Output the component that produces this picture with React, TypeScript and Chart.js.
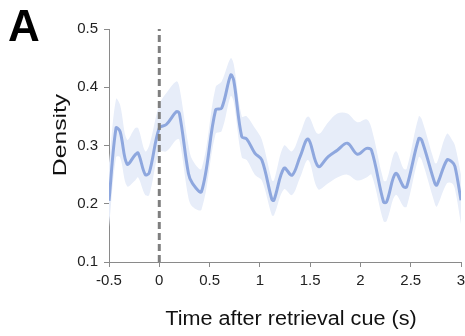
import React, { useEffect, useRef } from "react";
import { Chart, registerables } from "chart.js";

Chart.register(...registerables);

const timePoints = [-0.5, -0.43, -0.39, -0.32, -0.24, -0.21, -0.14, -0.1, 0.0, 0.07, 0.17, 0.2, 0.29, 0.33, 0.42, 0.56, 0.62, 0.71, 0.74, 0.82, 0.87, 0.95, 1.02, 1.12, 1.14, 1.24, 1.32, 1.4, 1.48, 1.58, 1.68, 1.77, 1.87, 1.97, 2.06, 2.11, 2.23, 2.26, 2.35, 2.43, 2.46, 2.58, 2.61, 2.74, 2.76, 2.86, 2.91, 2.94, 3.0];
const densityMean = [0.205, 0.33, 0.324, 0.268, 0.284, 0.287, 0.25, 0.253, 0.33, 0.336, 0.358, 0.355, 0.252, 0.235, 0.221, 0.361, 0.364, 0.421, 0.412, 0.315, 0.311, 0.287, 0.275, 0.207, 0.206, 0.261, 0.249, 0.281, 0.311, 0.264, 0.281, 0.292, 0.304, 0.285, 0.295, 0.292, 0.203, 0.203, 0.252, 0.229, 0.229, 0.312, 0.309, 0.235, 0.232, 0.275, 0.272, 0.264, 0.206];
const densityUpper = [0.27, 0.38, 0.37, 0.31, 0.33, 0.33, 0.29, 0.3, 0.37, 0.39, 0.41, 0.4, 0.3, 0.275, 0.26, 0.4, 0.41, 0.45, 0.44, 0.35, 0.35, 0.33, 0.31, 0.24, 0.24, 0.3, 0.29, 0.32, 0.35, 0.32, 0.34, 0.355, 0.355, 0.34, 0.345, 0.33, 0.24, 0.24, 0.29, 0.26, 0.26, 0.35, 0.345, 0.27, 0.27, 0.32, 0.31, 0.3, 0.25];
const densityLower = [0.16, 0.28, 0.28, 0.23, 0.24, 0.245, 0.215, 0.215, 0.29, 0.29, 0.31, 0.31, 0.21, 0.195, 0.19, 0.32, 0.325, 0.385, 0.375, 0.28, 0.275, 0.25, 0.24, 0.18, 0.18, 0.225, 0.215, 0.245, 0.275, 0.225, 0.235, 0.245, 0.25, 0.24, 0.245, 0.25, 0.17, 0.17, 0.215, 0.195, 0.195, 0.28, 0.275, 0.2, 0.195, 0.235, 0.235, 0.225, 0.165];
const cueTime = 0;
const xRange = [-0.5, 3];
const yRange = [0.1, 0.5];
const xTitle = "Time after retrieval cue (s)";
const yTitle = "Density";
const panelLabel = "A";

const FONT = "'Liberation Sans', Arial, Helvetica, sans-serif";

export default function App() {
  const ref = useRef<HTMLCanvasElement>(null);
  useEffect(() => {
    if (!ref.current) return;
    const pts = (ys: number[]) => timePoints.map((x, i) => ({ x, y: ys[i] }));
    const fmt = (v: any) => String(Math.round(Number(v) * 10) / 10);
    const chart = new Chart(ref.current, {
      type: "line",
      data: {
        datasets: [
          {
            data: [{ x: cueTime, y: yRange[0] }, { x: cueTime, y: yRange[1] }],
            borderColor: "#7f7f7f",
            borderWidth: 3,
            borderDash: [7, 4],
            pointRadius: 0,
            fill: false,
            order: 0,
          },
          {
            data: pts(densityMean),
            borderColor: "#8ea7de",
            borderWidth: 3,
            pointRadius: 0,
            tension: 0.35,
            fill: false,
            order: 1,
          },
          {
            data: pts(densityUpper),
            borderColor: "rgba(0,0,0,0)",
            borderWidth: 0,
            pointRadius: 0,
            tension: 0.35,
            backgroundColor: "#e7edf9",
            fill: "+1",
            order: 2,
          },
          {
            data: pts(densityLower),
            borderColor: "rgba(0,0,0,0)",
            borderWidth: 0,
            pointRadius: 0,
            tension: 0.35,
            fill: false,
            order: 3,
          },
        ],
      },
      options: {
        animation: false,
        responsive: false,
        layout: { padding: { top: 29, right: 4, left: 0, bottom: 0 } },
        plugins: { legend: { display: false }, tooltip: { enabled: false } },
        scales: {
          x: {
            type: "linear",
            min: xRange[0],
            max: xRange[1],
            ticks: { stepSize: 0.5, color: "#222", font: { family: FONT, size: 15 }, padding: 5, maxRotation: 0, callback: fmt },
            grid: { drawOnChartArea: false, tickLength: 5, color: "#8a8a8a", tickColor: "#8a8a8a" },
            border: { color: "#8a8a8a", width: 1 },
            afterFit: (s: any) => { s.height = 74; s.paddingRight = 0; s.paddingLeft = 0; },
          },
          y: {
            type: "linear",
            min: yRange[0],
            max: yRange[1],
            ticks: { stepSize: 0.1, color: "#222", font: { family: FONT, size: 15 }, padding: 6, callback: fmt },
            grid: { drawOnChartArea: false, tickLength: 5, color: "#8a8a8a", tickColor: "#8a8a8a" },
            border: { color: "#8a8a8a", width: 1 },
            afterFit: (s: any) => { s.width = 109; s.paddingTop = 0; s.paddingBottom = 0; },
          },
        },
      },
    });
    return () => chart.destroy();
  }, []);
  return (
    <div style={{ position: "absolute", left: 0, top: 0, width: 465, height: 336, background: "#fff", overflow: "hidden" }}>
      <canvas ref={ref} width={465} height={336} style={{ position: "absolute", left: 0, top: 0 }} />
      <div style={{ position: "absolute", left: 8, top: 2, fontFamily: FONT, fontWeight: "bold", fontSize: 44, lineHeight: "48px", color: "#000" }}>{panelLabel}</div>
      <div style={{ position: "absolute", left: 291, top: 318, fontFamily: FONT, fontSize: 20, lineHeight: "24px", color: "#111", whiteSpace: "nowrap", transform: "translate(-50%, -50%) scaleX(1.08)" }}>{xTitle}</div>
      <div style={{ position: "absolute", left: 60, top: 135, fontFamily: FONT, fontSize: 19, lineHeight: "22px", color: "#111", whiteSpace: "nowrap", transform: "translate(-50%, -50%) rotate(-90deg) scaleX(1.3)" }}>{yTitle}</div>
    </div>
  );
}
